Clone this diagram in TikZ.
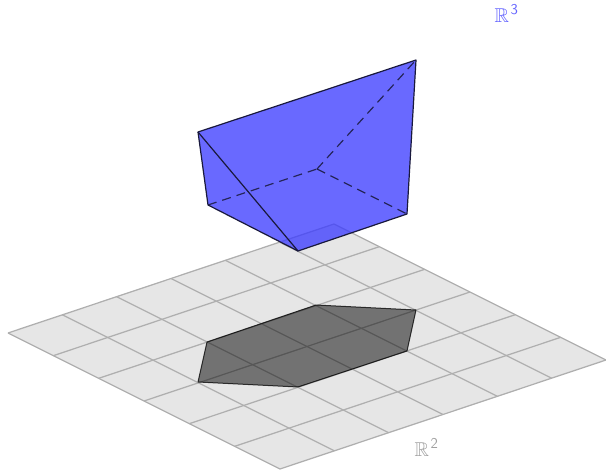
\documentclass[tikz,border=0pt]{standalone}
\usepackage{amssymb}
\usetikzlibrary{calc}
\definecolor{planefill}{RGB}{230,230,230}
\definecolor{planeline}{RGB}{175,175,175}
\definecolor{solidblue}{RGB}{60,60,255}
\definecolor{edgedark}{RGB}{25,25,60}
\definecolor{rtwo}{RGB}{160,160,160}
\definecolor{rthree}{RGB}{100,100,255}
\newcommand{\spacesym}[1]{$\mathbb{R}$\kern1.5pt\raisebox{8pt}{\fontsize{15}{15}\selectfont\sffamily #1}}
\tikzset{
  planeedge/.style={draw=planeline,line width=1.25pt},
  solidface/.style={fill=solidblue,fill opacity=0.77,draw=none},
  frontedge/.style={draw=edgedark,line width=1.2pt,line join=round},
  backedge/.style={draw=edgedark,line width=1.2pt,dash pattern=on 9pt off 6pt,draw opacity=0.85},
  shadowface/.style={fill=black,fill opacity=0.5,draw=none},
  shadowedge/.style={draw=black,draw opacity=0.75,line width=1pt,line join=round},
  spacelabel/.style={inner sep=0pt,anchor=base west,font=\fontsize{20}{20}\selectfont}
}
\begin{document}
\begin{tikzpicture}[x=1pt,y=-1pt]
\useasboundingbox (0,0) rectangle (606,471);
% plane corners
\coordinate (L) at (8,333);
\coordinate (B) at (280,469);
\coordinate (R) at (606,360);
\coordinate (T) at (334,224);
\fill[planefill] (L) -- (B) -- (R) -- (T) -- cycle;
\foreach \i in {0,...,6}{
  \pgfmathsetmacro{\f}{\i/6}
  \draw[planeedge] ($(L)!\f!(B)$) -- ($(T)!\f!(R)$);
  \draw[planeedge] ($(L)!\f!(T)$) -- ($(B)!\f!(R)$);
}
% shadow
\coordinate (a2) at (198,382);
\coordinate (e2) at (207,342);
\coordinate (f2) at (316,305);
\coordinate (b2) at (416,310);
\coordinate (c2) at (407,351);
\coordinate (d2) at (298,387);
\path[shadowface] (a2) -- (e2) -- (f2) -- (b2) -- (c2) -- (d2) -- cycle;
\draw[shadowedge] (a2) -- (e2) -- (f2) -- (b2) -- (c2) -- (d2) -- cycle;
% solid
\coordinate (a) at (198,132);
\coordinate (b) at (416,60);
\coordinate (c) at (407,214);
\coordinate (d) at (298,251);
\coordinate (e) at (208,205);
\coordinate (f) at (317,169);
\path[solidface] (a) -- (b) -- (c) -- (d) -- (e) -- cycle;
\draw[backedge] (e) -- (f);
\draw[backedge] (f) -- (c);
\draw[backedge] (f) -- (b);
\draw[frontedge] (a) -- (b) -- (c) -- (d) -- (e) -- cycle;
\draw[frontedge] (a) -- (d);
% labels
\node[spacelabel,text=rthree] (r3) at (494.5,23) {\spacesym{3}};
\node[spacelabel,text=rtwo] (r2) at (414.5,456) {\spacesym{2}};
\end{tikzpicture}
\end{document}
